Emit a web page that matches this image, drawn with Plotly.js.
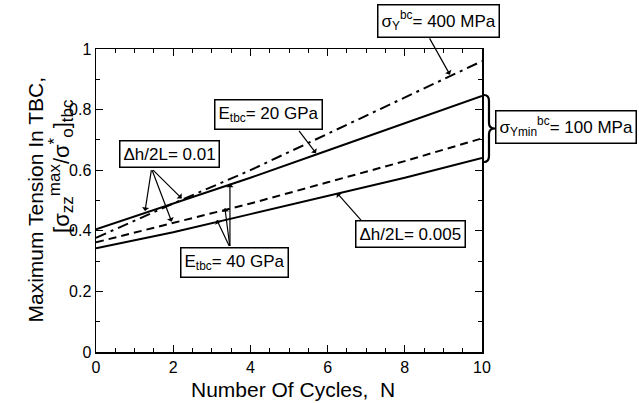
<!DOCTYPE html>
<html>
<head>
<meta charset="utf-8">
<script src="https://cdn.plot.ly/plotly-3.0.1.min.js"></script>
<style>html,body{margin:0;padding:0;background:#fff;}#chart{width:639px;height:403px;}</style>
</head>
<body>
<div id="chart"></div>
<script>
// Data
const cycles = [0, 2, 4, 6, 8, 10];
const tensionBase = [0.405, 0.49, 0.575, 0.665, 0.755, 0.845];     // solid, E=20GPa, dh/2L=0.01, sigmaY=100MPa
const tensionSy400 = [0.377, 0.49, 0.60, 0.72, 0.84, 0.96];        // dash-dot, sigmaY=400MPa
const tensionE40 = [0.362, 0.425, 0.49, 0.56, 0.63, 0.705];        // dashed, E=40GPa
const tensionDh005 = [0.342, 0.395, 0.455, 0.515, 0.575, 0.64];    // solid, dh/2L=0.005

const FONT = 'Liberation Sans, Arial, Helvetica, sans-serif';

function line(y, dash, name) {
  return {x: cycles, y: y, type: 'scatter', mode: 'lines', name: name,
    line: {color: '#000', width: 2, dash: dash}, hoverinfo: 'skip'};
}
const traces = [
  line(tensionBase, 'solid', 'base'),
  line(tensionSy400, '11px,5px,3px,5px', 'sy400'),
  line(tensionE40, '8px,5px', 'e40'),
  line(tensionDh005, 'solid', 'dh005')
];

function box(text, x, y, ref) {
  return {x: x, y: y, xref: ref || 'x', yref: ref || 'y', text: text, showarrow: false,
    font: {family: FONT, size: 17, color: '#000'}, bgcolor: '#fff',
    bordercolor: '#000', borderwidth: 1.5, borderpad: 3, xanchor: 'center', yanchor: 'middle'};
}
function arrow(ax, ay, x, y) {
  return {x: x, y: y, ax: ax, ay: ay, xref: 'x', yref: 'y', axref: 'x', ayref: 'y',
    text: '', showarrow: true, arrowhead: 1, arrowsize: 1, arrowwidth: 1.2, arrowcolor: '#000'};
}

const S = function (t) { return '<span style="font-size:17px">' + t + '</span>'; };

const annotations = [
  box('σ<sub>Y</sub><sup>bc</sup>= 400 MPa', 0.888, 1.092, 'paper'),
  arrow(8.62, 1.04, 9.17, 0.915),
  box('E<sub>tbc</sub>= 20 GPa', 4.48, 0.785),
  arrow(5.23, 0.735, 5.7, 0.656),
  box('Δh/2L= 0.01', 1.9, 0.655),
  arrow(1.44, 0.605, 1.27, 0.465),
  arrow(1.44, 0.605, 2.22, 0.507),
  arrow(1.44, 0.605, 1.96, 0.43),
  box('E<sub>tbc</sub>= 40 GPa', 3.6, 0.294),
  arrow(3.47, 0.345, 3.47, 0.556),
  arrow(3.47, 0.345, 3.34, 0.475),
  arrow(3.47, 0.345, 3.13, 0.436),
  box('Δh/2L= 0.005', 8.16, 0.39),
  arrow(6.9, 0.43, 6.24, 0.525),
  box('σ<sub>Ymin</sub><sup>bc</sup>= 100 MPa', 1.218, 0.744, 'paper'),
  {xref: 'paper', yref: 'paper', x: 0.51, y: -0.125, text: 'Number Of Cycles,&nbsp; N',
   showarrow: false, font: {family: FONT, size: 21, color: '#000'}, xanchor: 'center', yanchor: 'middle'},
  {xref: 'paper', yref: 'paper', x: -0.158, y: 0.5, text: 'Maximum Tension In TBC,', textangle: -90,
   showarrow: false, font: {family: FONT, size: 21, color: '#000'}, xanchor: 'center', yanchor: 'middle'},
  {xref: 'paper', yref: 'paper', x: -0.09, y: 0.615,
   text: '[σ<sub>' + S('zz') + '</sub><sup>' + S('max') + '</sup>/σ<sup>' + S('*') + '</sup><sub>' + S('o') + '</sub>]<sub>' + S('tbc') + '</sub>',
   textangle: -90,
   showarrow: false, font: {family: FONT, size: 22, color: '#000'}, xanchor: 'center', yanchor: 'middle'}
];

// brace next to right axis (pixel -> paper helper for the decoration)
function px(p) { return ((p - 96) / 386).toFixed(4); }
function py(p) { return ((352 - p) / 303).toFixed(4); }
const bracePath = 'M' + px(484) + ',' + py(95) +
  ' Q' + px(489) + ',' + py(95) + ' ' + px(489) + ',' + py(101) +
  ' L' + px(489) + ',' + py(123) +
  ' Q' + px(489) + ',' + py(128.5) + ' ' + px(495) + ',' + py(128.5) +
  ' Q' + px(489) + ',' + py(128.5) + ' ' + px(489) + ',' + py(134) +
  ' L' + px(489) + ',' + py(156) +
  ' Q' + px(489) + ',' + py(162) + ' ' + px(484) + ',' + py(162);

const axisCommon = {
  showgrid: false, zeroline: false, showline: true, linecolor: '#000', linewidth: 1.5,
  mirror: 'ticks', ticks: 'inside', ticklen: 7, tickwidth: 1.2, tickcolor: '#000',
  tickfont: {family: FONT, size: 16, color: '#000'}
};

const layout = {
  width: 639, height: 403,
  margin: {l: 96, r: 157, t: 49, b: 51},
  paper_bgcolor: '#fff', plot_bgcolor: '#fff',
  showlegend: false,
  xaxis: Object.assign({}, axisCommon, {range: [0, 10], dtick: 2, tick0: 0,
    minor: {dtick: 0.5, ticks: 'inside', ticklen: 4, tickcolor: '#000', tickwidth: 1}}),
  yaxis: Object.assign({}, axisCommon, {range: [0, 1], dtick: 0.2, tick0: 0,
    minor: {dtick: 0.1, ticks: 'inside', ticklen: 4, tickcolor: '#000', tickwidth: 1}}),
  annotations: annotations,
  shapes: [{type: 'path', xref: 'paper', yref: 'paper', path: bracePath,
    line: {color: '#000', width: 2.2}}]
};

Plotly.newPlot('chart', traces, layout, {staticPlot: true, displayModeBar: false});
</script>
</body>
</html>
